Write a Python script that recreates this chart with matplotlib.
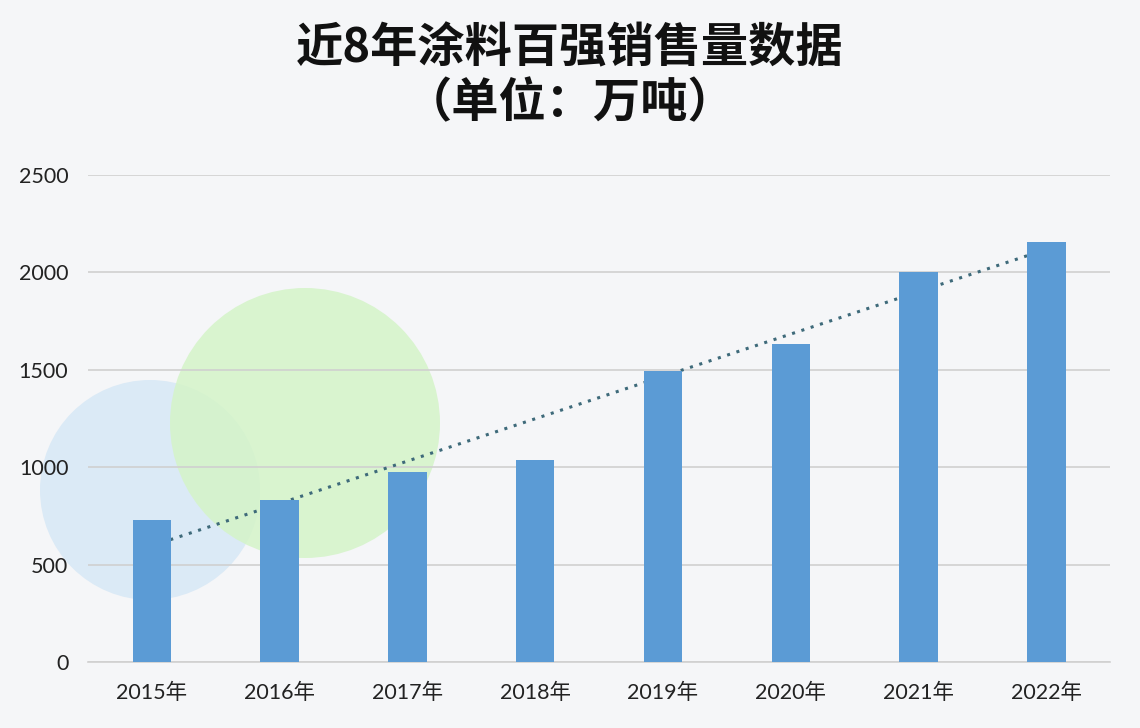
import numpy as np
import matplotlib.pyplot as plt
from matplotlib.patches import Circle

# 近8年涂料百强销售量 (万吨)
years = ['2015年', '2016年', '2017年', '2018年', '2019年', '2020年', '2021年', '2022年']
sales = [729, 832, 975, 1037, 1494, 1632, 2002, 2156]
yticks = [0, 500, 1000, 1500, 2000, 2500]

plt.rcParams['font.family'] = ['Lato', 'Noto Sans CJK SC', 'DejaVu Sans']

fig = plt.figure(figsize=(11.4, 7.28), dpi=100, facecolor='#f5f6f8')
ax = fig.add_axes([0.077, 0.0907, 0.897, 0.669])
ax.set_facecolor('none')

# soft background circles (inch coordinates so they stay round)
fig.add_artist(Circle((1.50, 2.38), 1.10, transform=fig.dpi_scale_trans,
                      facecolor='#dbeaf6', edgecolor='none', zorder=-2))
fig.add_artist(Circle((3.05, 3.05), 1.35, transform=fig.dpi_scale_trans,
                      facecolor='#d4f4c8', edgecolor='none', alpha=0.85, zorder=-1))

x = np.arange(len(years))
ax.bar(x, sales, width=0.3, color='#5b9bd5', zorder=3)

# linear trendline
k, b = np.polyfit(x, sales, 1)
ax.plot(x, k * x + b, linestyle=(0, (1, 2.2)), color='#3e6a7a', linewidth=2.2, zorder=2)

ax.set_xlim(-0.5, len(years) - 0.5)
ax.set_ylim(0, 2500)
ax.set_yticks(yticks)
ax.set_xticks(x)
ax.set_xticklabels(years)
ax.yaxis.grid(True, color='#d0d0d0', linewidth=1.2, zorder=1)
ax.set_axisbelow(True)
for s in ['top', 'right', 'left']:
    ax.spines[s].set_visible(False)
ax.spines['bottom'].set_color('#d0d0d0')
ax.spines['bottom'].set_linewidth(1.2)
ax.tick_params(axis='both', length=0, labelsize=15.5, colors='#222222')
ax.tick_params(axis='x', pad=15)
ax.tick_params(axis='y', pad=14)

fig.text(0.5, 1 - 48 / 728, '近8年涂料百强销售量数据', ha='center', va='center',
         fontsize=34, fontweight='bold', family=['Noto Sans CJK SC'], color='#111111')
fig.text(0.5, 1 - 103 / 728, '（单位：万吨）', ha='center', va='center',
         fontsize=34, fontweight='bold', family=['Noto Sans CJK SC'], color='#111111')

fig.savefig('out.png', dpi=100, facecolor=fig.get_facecolor())
